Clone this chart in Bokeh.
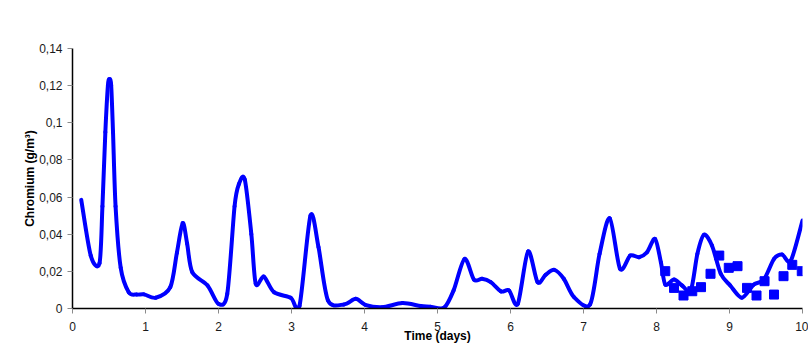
from bokeh.plotting import figure
from bokeh.models import Range1d, FixedTicker
from bokeh.embed import file_html
from bokeh.resources import INLINE

# Line series: time (days) and chromium concentration (g/m3)
line_t = [0.12, 0.25, 0.37, 0.41, 0.45, 0.485, 0.507, 0.53, 0.555, 0.59, 0.66, 0.77, 0.88, 0.98,
          1.14, 1.34, 1.43, 1.51, 1.57, 1.64, 1.85, 2.0, 2.12, 2.22, 2.28, 2.36, 2.45, 2.51, 2.62,
          2.76, 2.99, 3.11, 3.26, 3.37, 3.5, 3.72, 3.88, 4.01, 4.24, 4.52, 4.77, 4.9, 5.09, 5.22,
          5.37, 5.5, 5.61, 5.73, 5.87, 5.98, 6.1, 6.24, 6.37, 6.48, 6.6, 6.73, 6.87, 7.09, 7.22,
          7.36, 7.5, 7.64, 7.76, 7.87, 7.98, 8.06, 8.12, 8.24, 8.35, 8.47, 8.56, 8.65, 8.76, 8.88,
          9.01, 9.17, 9.33, 9.47, 9.61, 9.72, 9.84, 10.0]
line_v = [0.0585, 0.0285, 0.0244, 0.055, 0.095, 0.12, 0.1235, 0.12, 0.095, 0.055, 0.022, 0.0088,
          0.0075, 0.0076, 0.0058, 0.0115, 0.03, 0.046, 0.035, 0.0196, 0.0124, 0.0025, 0.0079,
          0.055, 0.067, 0.0695, 0.04, 0.0133, 0.0172, 0.0088, 0.0058, 0.0015, 0.050, 0.033,
          0.0043, 0.0022, 0.0052, 0.002, 0.0007, 0.0029, 0.0013, 0.001, 0.0004, 0.0097, 0.0267,
          0.0155, 0.016, 0.0142, 0.0092, 0.0097, 0.0025, 0.0307, 0.0142, 0.0181, 0.0208, 0.016,
          0.0061, 0.0022, 0.0294, 0.0486, 0.0214, 0.0285, 0.0276, 0.0303, 0.0375, 0.0249, 0.0129,
          0.0156, 0.0124, 0.0097, 0.0294, 0.0397, 0.0339, 0.0187, 0.0124, 0.0058, 0.0128, 0.0155,
          0.0267, 0.0291, 0.0258, 0.0474]

# Measured points
meas_t = [8.12, 8.24, 8.37, 8.49, 8.61, 8.74, 8.86, 8.99, 9.11, 9.24, 9.37, 9.48, 9.61, 9.74,
          9.86, 9.99]
meas_v = [0.0201, 0.0111, 0.007, 0.0093, 0.0115, 0.0187, 0.0285, 0.0219, 0.0228, 0.0111, 0.007,
          0.0147, 0.0075, 0.0174, 0.0235, 0.0201]

x_ticks = [0, 1, 2, 3, 4, 5, 6, 7, 8, 9, 10]
y_ticks = [0, 0.02, 0.04, 0.06, 0.08, 0.1, 0.12, 0.14]
y_tick_labels = ["0", "0,02", "0,04", "0,06", "0,08", "0,1", "0,12", "0,14"]

FONT = "Liberation Sans"

p = figure(width=808, height=358, output_backend="svg", toolbar_location=None,
           x_range=Range1d(0, 10), y_range=Range1d(0, 0.14),
           min_border_left=72, min_border_right=6, min_border_top=48, min_border_bottom=50)
p.background_fill_color = "white"
p.border_fill_color = "white"
p.outline_line_color = None
p.grid.visible = False

# smoothed line (cubic Bezier segments between the read points, like a smoothed spreadsheet line)
TENSION = 7.0
n = len(line_t)
x0, y0, x1, y1, cx0, cy0, cx1, cy1 = [], [], [], [], [], [], [], []
for i in range(n - 1):
    a = max(i - 1, 0)
    b = min(i + 2, n - 1)
    x0.append(line_t[i]); y0.append(line_v[i])
    x1.append(line_t[i + 1]); y1.append(line_v[i + 1])
    cx0.append(line_t[i] + (line_t[i + 1] - line_t[a]) / TENSION)
    cy0.append(line_v[i] + (line_v[i + 1] - line_v[a]) / TENSION)
    cx1.append(line_t[i + 1] - (line_t[b] - line_t[i]) / TENSION)
    cy1.append(line_v[i + 1] - (line_v[b] - line_v[i]) / TENSION)
p.bezier(x0=x0, y0=y0, x1=x1, y1=y1, cx0=cx0, cy0=cy0, cx1=cx1, cy1=cy1,
         line_color="#0000FF", line_width=4, line_cap="round")
p.scatter(meas_t, meas_v, marker="square", size=9, fill_color="#0000FF", line_color="#0000FF")

for ax in (p.xaxis[0], p.yaxis[0]):
    ax.axis_line_color = "black"
    ax.axis_line_width = 1.5
    ax.major_tick_line_color = "#8a8a8a"
    ax.major_tick_in = 0
    ax.major_tick_out = 5
    ax.minor_tick_line_color = None
    ax.major_label_text_font = FONT
    ax.major_label_text_font_size = "12px"
    ax.major_label_text_color = "#1a1a1a"
    ax.axis_label_text_font = FONT
    ax.axis_label_text_font_size = "12px"
    ax.axis_label_text_font_style = "bold"
    ax.axis_label_text_color = "black"

p.xaxis[0].ticker = FixedTicker(ticks=x_ticks)
p.xaxis[0].major_label_standoff = 8
p.xaxis[0].axis_label = "Time (days)"
p.xaxis[0].axis_label_standoff = -5
p.yaxis[0].ticker = FixedTicker(ticks=y_ticks)
p.yaxis[0].major_label_overrides = {t: s for t, s in zip(y_ticks, y_tick_labels)}
p.yaxis[0].major_label_standoff = 5
p.yaxis[0].axis_label = "Chromium (g/m³)"
p.yaxis[0].axis_label_standoff = -1

open("out.html", "w").write(file_html(p, INLINE))
